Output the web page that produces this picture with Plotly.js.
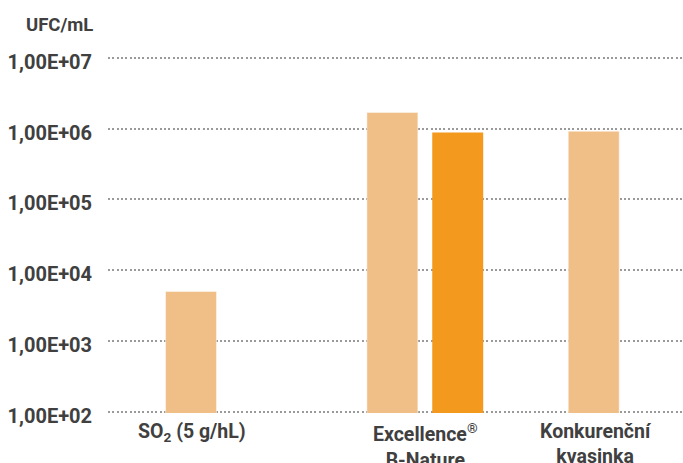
<!DOCTYPE html>
<html>
<head>
<meta charset="utf-8">
<script src="https://cdn.plot.ly/plotly-3.0.1.min.js"></script>
<style>html,body{margin:0;padding:0;background:#fff;}#chart{width:683px;height:463px;}</style>
</head>
<body>
<div id="chart"></div>
<script>
const categories = ['SO2', 'Excellence B-Nature', 'Konkurenční kvasinka'];
const categoryLabels = ['SO<sub>2</sub> (5 g/hL)', 'Excellence<sup>®</sup><br>B-Nature', 'Konkurenční<br>kvasinka'];
const seriesLight = [5000, 1700000, 920000];
const seriesDark = [null, 880000, null];
const tickValues = [1e2, 1e3, 1e4, 1e5, 1e6, 1e7];
const tickLabels = ['1,00E+02', '1,00E+03', '1,00E+04', '1,00E+05', '1,00E+06', '1,00E+07'];
const labelPositions = [-0.155, 1, 1.85];

const FONT = 'Roboto, "Liberation Sans", sans-serif';
const TXT = '#404040';

const traces = [
  {type: 'bar', x: categories, y: seriesLight, name: 'A',
   marker: {color: '#F0BF87', line: {color: 'rgba(255,255,255,0.45)', width: 1}}, hoverinfo: 'skip'},
  {type: 'bar', x: categories, y: seriesDark, name: 'B',
   marker: {color: '#F39A1E', line: {width: 0}}, hoverinfo: 'skip'}
];

const annotations = categoryLabels.map((t, i) => ({
  x: labelPositions[i], xref: 'x', y: 0, yref: 'paper', yanchor: 'top', xanchor: 'center',
  yshift: -5, text: t, showarrow: false,
  font: {family: FONT, size: 19.5, color: TXT, weight: 700}
}));
annotations.push({
  x: (59 - 108) / 575, xref: 'paper', xanchor: 'center',
  y: 1 + (50 - 22) / 363, yref: 'paper', yanchor: 'middle', yshift: -3,
  text: 'UFC/mL', showarrow: false,
  font: {family: FONT, size: 18.5, color: TXT, weight: 700}
});

const layout = {
  width: 683, height: 463,
  margin: {l: 108, r: 0, t: 50, b: 50, pad: 0},
  paper_bgcolor: '#fff', plot_bgcolor: '#fff',
  showlegend: false,
  barmode: 'group', bargap: 0.351, bargroupgap: 0.22,
  xaxis: {type: 'category', range: [-0.5746, 2.281], showticklabels: false, showgrid: false,
          zeroline: false, showline: false, ticks: ''},
  yaxis: {type: 'log', range: [1.9788, 7.113], tickmode: 'array', tickvals: tickValues, ticktext: tickLabels,
          showgrid: true, gridcolor: '#9a9a9a', gridwidth: 2, griddash: '2px,2.3px',
          zeroline: false, showline: false, ticks: '', ticklabelstandoff: 15, ticklabelshift: 4,
          tickfont: {family: FONT, size: 20, color: TXT, weight: 700}},
  annotations: annotations
};

Plotly.newPlot('chart', traces, layout, {displayModeBar: false, staticPlot: true});
</script>
</body>
</html>
